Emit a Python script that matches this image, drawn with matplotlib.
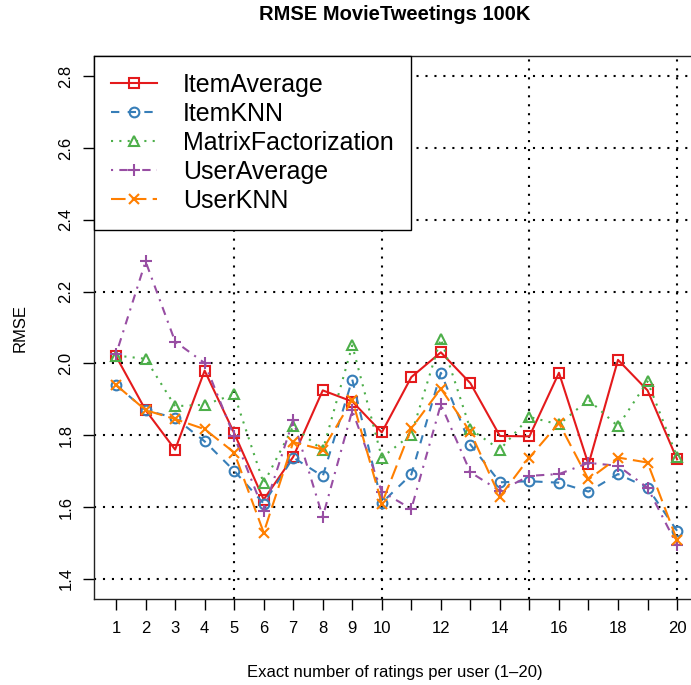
import matplotlib
matplotlib.use("Agg")
import matplotlib.pyplot as plt

plt.rcParams["font.family"] = ["Liberation Sans", "DejaVu Sans"]

# RMSE per exact number of ratings per user
ratings = list(range(1, 21))
item_average = [2.020, 1.870, 1.760, 1.980, 1.806, 1.621, 1.740, 1.925, 1.894, 1.808,
                1.962, 2.031, 1.945, 1.798, 1.797, 1.974, 1.719, 2.010, 1.925, 1.733]
item_knn = [1.940, 1.870, 1.848, 1.783, 1.701, 1.610, 1.738, 1.686, 1.955, 1.612,
            1.691, 1.974, 1.774, 1.669, 1.672, 1.668, 1.643, 1.692, 1.654, 1.534]
matrix_fact = [2.022, 2.013, 1.881, 1.885, 1.914, 1.666, 1.825, 1.758, 2.050, 1.738,
               1.802, 2.069, 1.817, 1.760, 1.851, 1.830, 1.899, 1.825, 1.950, 1.740]
user_average = [2.026, 2.284, 2.061, 2.001, 1.797, 1.590, 1.842, 1.573, 1.869, 1.643,
                1.595, 1.886, 1.697, 1.645, 1.687, 1.692, 1.723, 1.715, 1.654, 1.494]
user_knn = [1.940, 1.870, 1.845, 1.817, 1.752, 1.529, 1.781, 1.760, 1.899, 1.610,
            1.819, 1.930, 1.809, 1.629, 1.738, 1.834, 1.677, 1.738, 1.724, 1.508]

x_tick_labels = ["1", "2", "3", "4", "5", "6", "7", "8", "9", "10",
                 "", "12", "", "14", "", "16", "", "18", "", "20"]
y_ticks = [1.4, 1.6, 1.8, 2.0, 2.2, 2.4, 2.6, 2.8]

# name, values, colour, linestyle, marker, markersize
series = [
    ("ItemAverage", item_average, "#E41A1C", "-", "s", 6.5),
    ("ItemKNN", item_knn, "#377EB8", (0, (4, 4)), "o", 7),
    ("MatrixFactorization", matrix_fact, "#4DAF4A", (0, (1, 3)), "^", 7.5),
    ("UserAverage", user_average, "#984EA3", (0, (1, 3, 4, 3)), "+", 9),
    ("UserKNN", user_knn, "#FF7F00", (0, (7, 3)), "x", 7.5),
]

fig = plt.figure(figsize=(6.91, 6.85), dpi=100)
fig.patch.set_facecolor("white")
ax = fig.add_axes([0.1355, 0.1255, 0.8768, 0.7927])

# dotted reference grid
grid_style = dict(color="black", lw=1.5, linestyle=(0, (1, 3.3)), zorder=1)
for yv in y_ticks:
    ax.axhline(yv, **grid_style)
for xv in [5, 10, 15, 20]:
    ax.axvline(xv, **grid_style)

for name, vals, color, ls, mk, ms in series:
    ax.plot(ratings, vals, color=color, linestyle=ls, lw=1.5,
            marker=mk, markersize=ms, markerfacecolor="none",
            markeredgecolor=color, markeredgewidth=1.5, label=name, zorder=3)

ax.set_xlim(0.24, 20.76)
ax.set_ylim(1.344, 2.856)

ax.set_xticks(ratings)
ax.set_xticklabels(x_tick_labels)
ax.set_yticks(y_ticks)
ax.set_yticklabels([f"{v:.1f}" for v in y_ticks], rotation=90, va="center")
ax.tick_params(axis="x", length=8, width=1, pad=8, labelsize=12)
ax.tick_params(axis="y", length=8, width=1, pad=6.5, labelsize=12)

for sp in ax.spines.values():
    sp.set_linewidth(1.0)
    sp.set_color("#222222")

leg = ax.legend(loc="upper left", bbox_to_anchor=(0, 1), borderaxespad=0,
                fontsize=18, frameon=True, fancybox=False, framealpha=1,
                edgecolor="black", borderpad=0.68, labelspacing=0.2,
                handlelength=1.85, handletextpad=1.05, numpoints=1)
leg.get_frame().set_linewidth(1.0)
leg.set_zorder(5)

fig.text(395 / 691, 1 - 20 / 685, "RMSE MovieTweetings 100K", ha="center",
         va="baseline", fontsize=14.5, fontweight="bold")
fig.text(395 / 691, 1 - 672 / 685, "Exact number of ratings per user (1\u201320)",
         ha="center", va="center", fontsize=12)
fig.text(20 / 691, 1 - 328 / 685, "RMSE", rotation=90, ha="center",
         va="center", fontsize=12)

fig.savefig("out.png", dpi=100)
